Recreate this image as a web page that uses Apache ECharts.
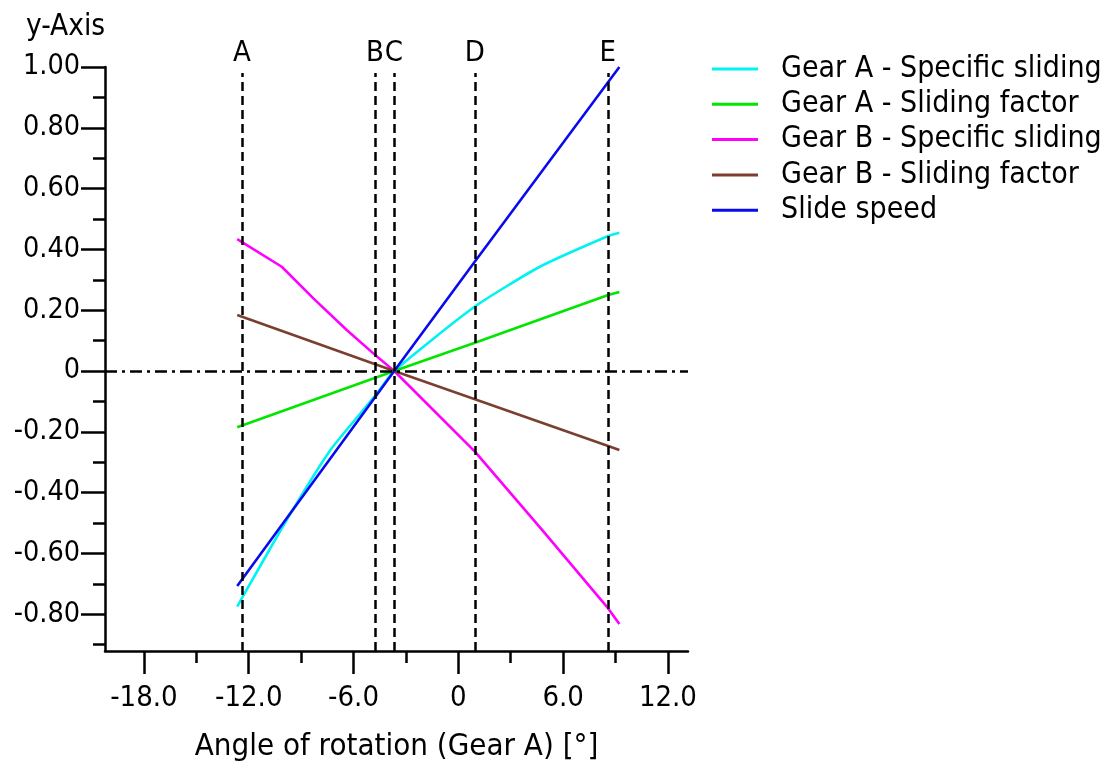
<!DOCTYPE html>
<html>
<head>
<meta charset="utf-8">
<title>Sliding</title>
<script src="https://cdn.jsdelivr.net/npm/echarts@6/dist/echarts.min.js"></script>
<style>
  html, body { margin: 0; background: #fff; }
  #main { width: 1112px; height: 761px; }
</style>
</head>
<body>
<div id="main"></div>
<script>
// values: [angle of rotation, y]
const specSlidingA = [[-12.66, -0.775], [-12.40, -0.748], [-9.83, -0.490], [-7.35, -0.262], [-4.77, -0.082],
  [-3.67, 0], [0.95, 0.212], [4.67, 0.343], [8.58, 0.444], [9.22, 0.455]];
const slidingFactorA = [[-12.66, -0.185], [-3.67, 0], [0.95, 0.093], [8.58, 0.250], [9.22, 0.260]];
const specSlidingB = [[-12.66, 0.434], [-10.11, 0.343], [-8.30, 0.239], [-6.39, 0.135], [-4.87, 0.058],
  [-3.67, 0], [0.95, -0.265], [4.77, -0.521], [8.58, -0.781], [9.22, -0.832]];
const slidingFactorB = [[-12.66, 0.184], [-3.67, 0], [0.95, -0.093], [8.58, -0.247], [9.22, -0.260]];
const slideSpeed = [[-12.66, -0.707], [-3.67, 0], [0.95, 0.360], [9.22, 1.0]];

const seriesNames = ['Gear A - Specific sliding', 'Gear A - Sliding factor', 'Gear B - Specific sliding',
  'Gear B - Sliding factor', 'Slide speed'];
const seriesColors = ['#00f2f2', '#00e600', '#ff00ff', '#7b3f30', '#0a0aee'];
const seriesSmooth = [0.2, false, false, false, false];

// contact points
const markerNames = ['A', 'B', 'C', 'D', 'E'];
const markerAngles = [-12.39, -4.77, -3.69, 0.95, 8.56];
const markerTop = 0.98;

const xTicks = [-18, -12, -6, 0, 6, 12];
const xMinorTicks = [-15, -9, -3, 3, 9];
const yTicks = [-0.8, -0.6, -0.4, -0.2, 0, 0.2, 0.4, 0.6, 0.8, 1.0];
const yMinorTicks = [-0.9, -0.7, -0.5, -0.3, -0.1, 0.1, 0.3, 0.5, 0.7, 0.9];
const xMin = -20.23, xMax = 13.15;
const yMin = -0.921, yMax = 1.0;

const font = '"DejaVu Sans Condensed", "DejaVu Sans", sans-serif';
const black = '#000';

const allData = [specSlidingA, slidingFactorA, specSlidingB, slidingFactorB, slideSpeed];

const series = allData.map((d, i) => ({
  name: seriesNames[i],
  type: 'line',
  data: d,
  smooth: seriesSmooth[i],
  showSymbol: false,
  symbol: 'none',
  color: seriesColors[i],
  lineStyle: { width: 2.6, color: seriesColors[i] },
  emphasis: { disabled: true },
  z: 3
}));

// dashed verticals with letters, plus dash-dot zero line
const markData = markerNames.map((n, i) => [
  { name: n, coord: [markerAngles[i], yMin] },
  { name: n, coord: [markerAngles[i], markerTop] }
]);
markData.push({
  yAxis: 0,
  lineStyle: { type: [12, 5, 3, 5], width: 2.5, color: black },
  label: { show: false }
});

series.push({
  name: 'markers',
  type: 'line',
  data: [],
  z: 2,
  markLine: {
    silent: true,
    symbol: ['none', 'none'],
    animation: false,
    lineStyle: { type: [9, 5], width: 2.5, color: black },
    label: {
      show: true, position: 'end', formatter: '{b}', distance: 5,
      color: black, fontSize: 29, fontFamily: font
    },
    emphasis: { disabled: true },
    data: markData
  }
});

const tickStyle = { color: black, width: 2.5 };

const option = {
  animation: false,
  backgroundColor: '#fff',
  title: {
    text: 'y-Axis', left: 21, top: 7,
    textStyle: { fontSize: 29.5, fontWeight: 'normal', color: black, fontFamily: font }
  },
  legend: {
    data: seriesNames,
    orient: 'vertical',
    left: 712, top: 54, padding: 0,
    itemWidth: 46, itemHeight: 3, itemGap: 5.3,
    icon: 'rect',
    textStyle: { fontSize: 30, color: black, fontFamily: font, lineHeight: 30, padding: [0, 0, 0, 18] }
  },
  grid: { left: 105, top: 67, width: 583, height: 584, containLabel: false, outerBoundsMode: 'none' },
  xAxis: [{
    type: 'value', min: xMin, max: xMax, position: 'bottom',
    name: 'Angle of rotation (Gear A) [°]', nameLocation: 'middle', nameGap: 80,
    nameTextStyle: { fontSize: 31, color: black, fontFamily: font },
    axisLine: { show: true, onZero: false, lineStyle: tickStyle },
    axisTick: { show: true, customValues: xTicks, length: 23, lineStyle: tickStyle },
    axisLabel: {
      customValues: xTicks, margin: 33, fontSize: 29, color: black, fontFamily: font,
      formatter: v => (v === 0 ? '0' : v.toFixed(1))
    },
    splitLine: { show: false }
  }, {
    type: 'value', min: xMin, max: xMax, position: 'bottom',
    axisLine: { show: false, onZero: false },
    axisTick: { show: true, customValues: xMinorTicks, length: 12, lineStyle: tickStyle },
    axisLabel: { show: false },
    splitLine: { show: false }
  }],
  yAxis: [{
    type: 'value', min: yMin, max: yMax, position: 'left',
    axisLine: { show: true, onZero: false, lineStyle: tickStyle },
    axisTick: { show: true, customValues: yTicks, length: 24, lineStyle: tickStyle },
    axisLabel: {
      customValues: yTicks, margin: 25, fontSize: 28.5, color: black, fontFamily: font,
      formatter: v => (Math.abs(v) < 1e-9 ? '0' : v.toFixed(2))
    },
    splitLine: { show: false }
  }, {
    type: 'value', min: yMin, max: yMax, position: 'left',
    axisLine: { show: false, onZero: false },
    axisTick: { show: true, customValues: yMinorTicks, length: 12, lineStyle: tickStyle },
    axisLabel: { show: false },
    splitLine: { show: false }
  }],
  series: series
};

const myChart = echarts.init(document.getElementById('main'));
myChart.setOption(option);
</script>
</body>
</html>
